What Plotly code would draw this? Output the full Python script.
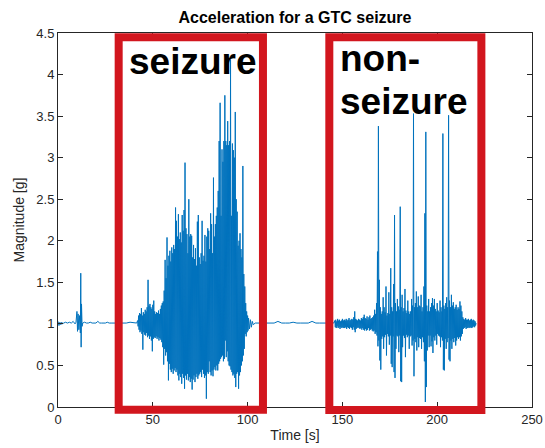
import plotly.graph_objects as go

# ---------------- data ----------------
# quiet lead-in, explicit samples (s, g)
pre_t = [0, 0.5, 1, 1.5, 2, 2.5, 3,
         4, 5, 6, 7, 8, 9,
         9.5, 10, 10.3, 10.6, 11, 11.4, 11.8,
         12.0, 12.2, 12.4, 12.7, 13,
         14, 15, 16, 17, 18, 19, 20, 21, 22, 23, 24, 25, 26, 27, 28, 29, 30,
         32, 34, 36, 38, 40, 41.5]
pre_v = [1.03, 0.98, 1.02, 0.99, 1.02, 1.00, 1.01,
         1.02, 1.01, 1.02, 1.01, 1.03, 1.00,
         1.02, 1.15, 0.91, 1.12, 0.93, 1.10, 0.89,
         1.61, 0.72, 1.24, 0.97, 1.01,
         1.02, 1.01, 1.01, 1.02, 1.01, 1.01, 1.01, 1.03, 1.01, 1.01, 1.01, 1.01, 1.02, 1.01, 1.01, 1.01, 1.01,
         1.01, 1.01, 1.01, 1.02, 1.01, 1.01]

# seizure: peak / trough per 0.5 s sample, from 42.0 s to 100.0 s
seiz_start = 42.0
seiz_hi = [1.04, 1.10, 1.13, 1.12, 1.19, 1.10, 1.14, 1.12, 1.17, 1.15,
           1.20, 1.53, 1.22, 1.24, 1.20, 1.18, 1.23, 1.28, 1.15, 1.12,
           1.14, 1.13, 1.16, 1.12, 1.18, 1.22, 1.25, 1.27, 1.40, 1.77,
           1.55, 2.04, 1.70, 1.82, 1.88, 1.75, 1.92, 1.85, 1.95, 1.90,
           2.40, 2.24, 2.05, 2.32, 2.02, 2.10, 1.98, 2.31, 2.12, 2.37,
           2.94, 2.15, 2.08, 1.85, 2.50, 2.05, 2.08, 2.06, 1.80, 1.95,
           1.78, 1.91, 1.70, 2.23, 2.31, 1.80, 1.72, 1.85, 2.24, 1.76,
           1.82, 2.07, 1.75, 2.05, 2.15, 2.12, 1.90, 2.33, 2.20, 1.85,
           2.76, 2.05, 2.20, 2.30, 2.40, 2.60, 3.20, 3.66, 2.30, 3.10,
           2.95, 3.20, 3.75, 3.20, 3.15, 3.44, 3.15, 3.20, 4.18, 2.30,
           3.17, 3.09, 3.00, 3.55, 2.50, 2.35, 1.94, 2.00, 2.09, 1.90,
           1.80, 2.90, 1.60, 1.45, 1.25, 1.15, 1.10]
seiz_lo = [0.97, 0.93, 0.90, 0.92, 0.88, 0.69, 0.90, 0.87, 0.86, 0.89,
           0.84, 0.86, 0.82, 0.85, 0.80, 0.67, 0.82, 0.84, 0.83, 0.85,
           0.82, 0.84, 0.80, 0.83, 0.81, 0.78, 0.72, 0.51, 0.70, 0.62,
           0.66, 0.55, 0.32, 0.52, 0.45, 0.42, 0.46, 0.40, 0.44, 0.47,
           0.42, 0.45, 0.38, 0.32, 0.40, 0.36, 0.28, 0.40, 0.35, 0.22,
           0.38, 0.33, 0.40, 0.32, 0.36, 0.30, 0.34, 0.21, 0.33, 0.38,
           0.30, 0.36, 0.40, 0.34, 0.38, 0.40, 0.42, 0.36, 0.45, 0.40,
           0.35, 0.38, 0.10, 0.42, 0.40, 0.55, 0.42, 0.38, 0.44, 0.37,
           0.45, 0.48, 0.44, 0.50, 0.44, 0.52, 0.55, 0.58, 0.60, 0.62,
           0.55, 0.58, 0.80, 0.60, 0.67, 0.55, 0.50, 0.49, 0.45, 0.42,
           0.38, 0.40, 0.35, 0.24, 0.40, 0.42, 0.22, 0.38, 0.42, 0.50,
           0.55, 0.62, 0.70, 0.88, 0.85, 0.90, 0.92]

# quiet gap between the two episodes
mid_t = [100.5, 101.0, 101.5, 102.0, 102.5, 103.0,
         104, 106, 108, 110, 112, 114, 116, 118, 120, 122, 124, 126, 128, 130,
         132, 134, 136, 138, 140, 142, 144, 145.5]
mid_v = [1.07, 0.94, 1.05, 0.96, 1.03, 0.99,
         1.01, 1.01, 1.02, 1.01, 1.01, 1.01, 1.03, 1.01, 1.01, 1.01, 1.02, 1.01, 1.01, 1.01,
         1.01, 1.03, 1.01, 1.01, 1.01, 1.01, 1.02, 1.01]

# non-seizure movement: peak / trough per 0.5 s sample, from 146.0 s to 220.0 s
non_start = 146.0
non_hi = [1.04, 1.05, 1.03, 1.06, 1.04, 1.05, 1.03, 1.04, 1.06, 1.04,
          1.05, 1.04, 1.06, 1.04, 1.05, 1.07, 1.04, 1.05, 1.06, 1.05,
          1.08, 1.15, 1.06, 1.05, 1.04, 1.06, 1.05, 1.04, 1.07, 1.06,
          1.08, 1.11, 1.07, 1.06, 1.09, 1.05, 1.08, 1.10, 1.06, 1.07,
          1.08, 1.10, 1.17, 1.12, 1.25, 1.87, 3.38, 1.53, 1.20, 1.12,
          1.15, 1.32, 1.20, 1.14, 1.45, 1.10, 1.13, 1.38, 1.12, 1.67,
          1.20, 1.15, 1.48, 2.31, 1.25, 1.15, 1.30, 1.21, 1.17, 2.41,
          1.20, 1.35, 1.15, 1.19, 1.42, 1.16, 1.13, 1.28, 1.15, 1.12,
          1.15, 1.30, 1.22, 3.53, 1.20, 1.25, 1.39, 1.20, 1.33, 1.22,
          1.21, 1.35, 1.15, 1.20, 1.45, 2.33, 3.31, 1.22, 1.15, 1.30,
          1.15, 1.20, 1.25, 1.31, 1.22, 1.30, 1.18, 1.15, 1.25, 1.16,
          1.14, 1.28, 1.20, 1.15, 3.29, 1.22, 1.18, 1.25, 1.32, 1.20,
          3.51, 1.28, 1.20, 1.35, 1.22, 1.26, 1.18, 1.20, 1.23, 1.17,
          1.20, 1.18, 1.27, 1.22, 1.15, 1.08, 1.06, 1.05, 1.07, 1.05,
          1.05, 1.06, 1.04, 1.05, 1.06, 1.04, 1.05, 1.04, 1.03]
non_lo = [0.96, 0.95, 0.97, 0.95, 0.96, 0.94, 0.96, 0.95, 0.96, 0.95,
          0.95, 0.96, 0.94, 0.96, 0.95, 0.94, 0.96, 0.95, 0.93, 0.96,
          0.93, 0.90, 0.94, 0.95, 0.96, 0.95, 0.94, 0.95, 0.93, 0.95,
          0.93, 0.92, 0.94, 0.92, 0.93, 0.95, 0.92, 0.93, 0.94, 0.92,
          0.91, 0.92, 0.88, 0.90, 0.86, 0.73, 0.80, 0.56, 0.45, 0.82,
          0.85, 0.70, 0.84, 0.87, 0.62, 0.88, 0.85, 0.75, 0.86, 0.52,
          0.48, 0.85, 0.42, 0.35, 0.70, 0.86, 0.85, 0.66, 0.86, 0.31,
          0.30, 0.72, 0.86, 0.83, 0.60, 0.87, 0.84, 0.86, 0.70, 0.85,
          0.86, 0.74, 0.80, 0.37, 0.82, 0.78, 0.68, 0.84, 0.72, 0.83,
          0.82, 0.70, 0.84, 0.78, 0.55, 0.06, 0.24, 0.68, 0.86, 0.72,
          0.86, 0.73, 0.79, 0.65, 0.84, 0.80, 0.86, 0.75, 0.88, 0.86,
          0.85, 0.72, 0.84, 0.80, 0.45, 0.44, 0.82, 0.70, 0.78, 0.83,
          0.57, 0.55, 0.80, 0.70, 0.82, 0.78, 0.83, 0.74, 0.80, 0.84,
          0.82, 0.84, 0.80, 0.85, 0.88, 0.94, 0.95, 0.96, 0.94, 0.95,
          0.95, 0.96, 0.95, 0.96, 0.95, 0.96, 0.97, 0.96, 0.98]
end_t = [220.5]
end_v = [1.01]

sample_step = 0.5

x_ticks = [0, 50, 100, 150, 200, 250]
y_ticks = [0, 0.5, 1, 1.5, 2, 2.5, 3, 3.5, 4, 4.5]
x_range = [0, 250]
y_range = [0, 4.5]

# highlight boxes (data units: t0, t1, g0, g1) and their labels
boxes = [(32.0, 108.1, -0.032, 4.449), (143.1, 223.3, -0.036, 4.449)]
labels = [("seizure", 36.4, 4.16), ("non-", 147.6, 4.19), ("seizure", 147.6, 3.67)]

title = "Acceleration for a GTC seizure"
x_title = "Time [s]"
y_title = "Magnitude [g]"

# ---------------- assemble the trace ----------------
t, v = list(pre_t), list(pre_v)
for i, (h, l) in enumerate(zip(seiz_hi, seiz_lo)):
    t += [seiz_start + i * sample_step, seiz_start + i * sample_step + sample_step / 2]
    v += [h, l]
t += mid_t
v += mid_v
for i, (h, l) in enumerate(zip(non_hi, non_lo)):
    t += [non_start + i * sample_step, non_start + i * sample_step + sample_step / 2]
    v += [h, l]
t += end_t
v += end_v

FONT = "Liberation Sans, Arial, Helvetica, sans-serif"
AX = "#262626"

fig = go.Figure(go.Scatter(x=t, y=v, mode="lines",
                           line=dict(color="#0072BD", width=1),
                           hoverinfo="skip", showlegend=False))

def to_px(val):
    return (val - x_range[0]) / (x_range[1] - x_range[0])

def to_py(val):
    return (val - y_range[0]) / (y_range[1] - y_range[0])

shapes = []
for (a, b, c, d) in boxes:
    shapes.append(dict(type="rect", xref="paper", yref="paper",
                       x0=to_px(a), x1=to_px(b), y0=to_py(c), y1=to_py(d),
                       line=dict(color="#D2161E", width=8),
                       fillcolor="rgba(0,0,0,0)", layer="above"))

annotations = []
for text, x, y in labels:
    annotations.append(dict(text="<b>%s</b>" % text, x=x, y=y, xref="x", yref="y",
                            xanchor="left", yanchor="middle", showarrow=False,
                            font=dict(family=FONT, size=37, color="black")))

fig.update_layout(
    width=545, height=448,
    margin=dict(l=58, r=13, t=33, b=41, pad=0),
    paper_bgcolor="white", plot_bgcolor="white",
    font=dict(family=FONT, color=AX, size=13),
    title=dict(text="<b>%s</b>" % title, x=0.5, xref="paper", xanchor="center",
               y=1 - 17 / 448, yref="container", yanchor="middle",
               font=dict(family=FONT, size=16, color="black")),
    shapes=shapes, annotations=annotations,
    xaxis=dict(range=x_range, tickvals=x_ticks, ticks="inside", ticklen=5,
               tickcolor=AX, showline=True, linecolor=AX, linewidth=1,
               mirror="ticks", showgrid=False, zeroline=False, automargin=False,
               tickfont=dict(size=13, color=AX),
               title=dict(text=x_title, font=dict(size=14, color=AX), standoff=4)),
    yaxis=dict(range=y_range, tickvals=y_ticks, ticks="inside", ticklen=5,
               tickcolor=AX, showline=True, linecolor=AX, linewidth=1,
               mirror="ticks", showgrid=False, zeroline=False, automargin=False,
               tickfont=dict(size=13, color=AX),
               title=dict(text=y_title, font=dict(size=14, color=AX), standoff=8)),
)

fig.write_html("out.html")
